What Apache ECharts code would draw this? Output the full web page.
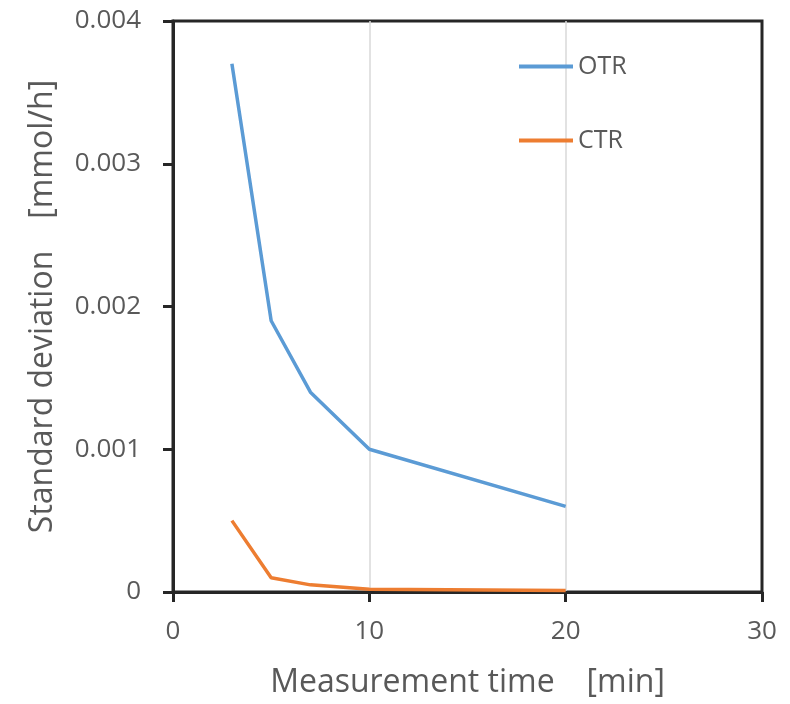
<!DOCTYPE html>
<html><head><meta charset="utf-8">
<script src="https://cdn.jsdelivr.net/npm/echarts@6/dist/echarts.min.js"></script>
<style>html,body{margin:0;padding:0;background:#fff}#c{width:790px;height:704px}</style>
</head><body><div id="c"></div>
<script>
const timesMin = [3, 5, 7, 10, 20];
const otrSD = [0.0037, 0.0019, 0.0014, 0.0010, 0.0006];
const ctrSD = [0.0005, 0.0001, 0.00005, 0.00002, 0.00001];
const xTitle = 'Measurement time\u3000[min]';
const yTitle = 'Standard deviation\u3000[mmol/h]';

const font = 'Open Sans';
const txt = '#595959';
const chart = echarts.init(document.getElementById('c'), null, {renderer: 'canvas'});
const legendCommon = {
  orient: 'vertical', itemWidth: 54, itemHeight: 14, padding: 0,
  icon: 'path://M0,5 L54,5 L54,9 L0,9 Z',
  textStyle: {fontFamily: font, fontSize: 25, color: txt}
};
chart.setOption({
  animation: false,
  backgroundColor: '#fff',
  grid: {left: 173, top: 21, right: 28, bottom: 110, show: true, borderColor: '#262626', borderWidth: 3, backgroundColor: 'transparent'},
  legend: [
    Object.assign({data: ['OTR'], left: 519, top: 54}, legendCommon),
    Object.assign({data: ['CTR'], left: 519, top: 128}, legendCommon)
  ],
  xAxis: {
    type: 'value', min: 0, max: 30, interval: 10,
    name: xTitle, nameLocation: 'middle', nameGap: 75,
    nameTextStyle: {fontFamily: font, fontSize: 32, color: txt},
    axisLine: {show: true, onZero: false, lineStyle: {color: '#262626', width: 3}},
    axisTick: {show: true, inside: false, length: 10, lineStyle: {color: '#262626', width: 3}},
    axisLabel: {fontFamily: font, fontSize: 26, color: txt, margin: 27},
    splitLine: {show: true, showMinLine: false, showMaxLine: false, lineStyle: {color: '#d9d9d9', width: 1.5}}
  },
  yAxis: {
    type: 'value', min: 0, max: 0.004, interval: 0.001,
    name: yTitle, nameLocation: 'middle', nameGap: 114,
    nameTextStyle: {fontFamily: font, fontSize: 32, color: txt},
    axisLine: {show: true, lineStyle: {color: '#262626', width: 3}},
    axisTick: {show: true, inside: false, length: 10, lineStyle: {color: '#262626', width: 3}},
    axisLabel: {fontFamily: font, fontSize: 26, color: txt, margin: 32,
      formatter: v => v === 0 ? '0' : v.toFixed(3)},
    splitLine: {show: false}
  },
  series: [
    {name: 'OTR', type: 'line', data: timesMin.map((t, i) => [t, otrSD[i]]),
     showSymbol: false, symbol: 'none', lineStyle: {color: '#5B9BD5', width: 3.5}, itemStyle: {color: '#5B9BD5'}},
    {name: 'CTR', type: 'line', data: timesMin.map((t, i) => [t, ctrSD[i]]),
     showSymbol: false, symbol: 'none', lineStyle: {color: '#ED7D31', width: 3.5}, itemStyle: {color: '#ED7D31'}}
  ]
});
</script></body></html>
